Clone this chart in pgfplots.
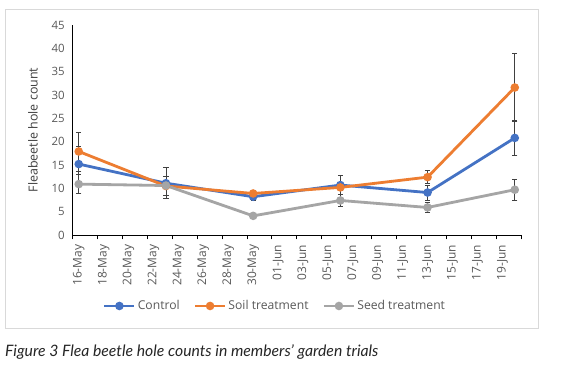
\documentclass[border=0pt]{standalone}
\usepackage{fontspec}
\setmainfont{Open Sans}
\newfontfamily\capfont{Lato}
\usepackage{pgfplots}
\pgfplotsset{compat=1.18}
\definecolor{cblue}{HTML}{4472C4}
\definecolor{corange}{HTML}{ED7D31}
\definecolor{cgray}{HTML}{A5A5A5}
\definecolor{txt}{HTML}{595959}
\definecolor{errc}{HTML}{404040}
\begin{document}
\begin{tikzpicture}
\path[fill=white] (0,0) rectangle (576bp,371bp);
\draw[color=black!15, line width=0.75bp] (5.5bp,43bp) rectangle (538bp,362bp);
\begin{axis}[
  at={(72.5bp,136bp)}, anchor=south west,
  scale only axis, width=448.5bp, height=210bp,
  xmin=-0.5, xmax=35.5, ymin=0, ymax=45,
  clip=false,
  axis lines*=left,
  axis line style={-, black, line width=0.75bp},
  ytick={0,5,...,45},
  ytick style={draw=none},
  yticklabel style={font=\fontsize{11.5}{13}\selectfont, text=txt},
  /pgf/number format/assume math mode=true,
  xtick={0,2,...,34},
  xticklabels={16-May,18-May,20-May,22-May,24-May,26-May,28-May,30-May,01-Jun,03-Jun,05-Jun,07-Jun,09-Jun,11-Jun,13-Jun,15-Jun,17-Jun,19-Jun},
  xticklabel style={rotate=90, anchor=east, font=\fontsize{12}{13}\selectfont, text=txt},
  major x tick style={draw=none},
  minor xtick={-0.5,1.5,...,35.5},
  minor x tick style={black, line width=0.75bp},
  minor tick length=4.5bp,
  tick align=outside,
  xticklabel shift=2bp,
  ylabel={Fleabeetle hole count},
  every axis y label/.style={at={(axis description cs:-0.088,0.5)}, rotate=90, anchor=center,
    font=\fontsize{12.5}{14}\selectfont, text=black!75},
  legend columns=3,
  legend style={at={(0.4515,-0.338)}, anchor=center, draw=none, fill=none,
    font=\fontsize{12.2}{14}\selectfont, text=txt,
    /tikz/every odd column/.append style={column sep=0bp},
    /tikz/every even column/.append style={column sep=12bp}},
  legend image code/.code={\draw[#1, mark repeat=2, mark phase=2] plot coordinates {(0bp,0bp) (15bp,0bp) (30bp,0bp)};},
  every axis plot/.append style={line width=2.8bp, mark=*, mark size=2.8bp},
  error bars/y dir=both, error bars/y explicit,
  error bars/error bar style={errc, line width=0.7bp, solid},
  error bars/error mark options={rotate=90, errc, mark size=2.6bp, line width=0.7bp},
]
\addplot[color=cblue] coordinates {
  (0,15.2) +- (0,3.9)
  (7,11.1) +- (0,3.3)
  (14,8.2) +- (0,0.7)
  (21,10.7) +- (0,2.0)
  (28,9.1) +- (0,1.6)
  (35,20.8) +- (0,3.8)
};
\addlegendentry{Control}
\addplot[color=corange] coordinates {
  (0,17.9) +- (0,4.2)
  (7,10.5) +- (0,2.1)
  (14,8.9) +- (0,0.6)
  (21,10.2) +- (0,0.6)
  (28,12.4) +- (0,1.4)
  (35,31.6) +- (0,7.3)
};
\addlegendentry{Soil treatment}
\addplot[color=cgray] coordinates {
  (0,10.9) +- (0,2.0)
  (7,10.6) +- (0,0.3)
  (14,4.1) +- (0,0.3)
  (21,7.4) +- (0,1.3)
  (28,5.9) +- (0,1.0)
  (35,9.7) +- (0,2.2)
};
\addlegendentry{Seed treatment}
\end{axis}
\node[anchor=west, inner sep=0pt, text=black!85] at (5bp,19bp) {\capfont\itshape\fontsize{15.8}{17}\selectfont Figure 3 Flea beetle hole counts in members’ garden trials};
\end{tikzpicture}
\end{document}
